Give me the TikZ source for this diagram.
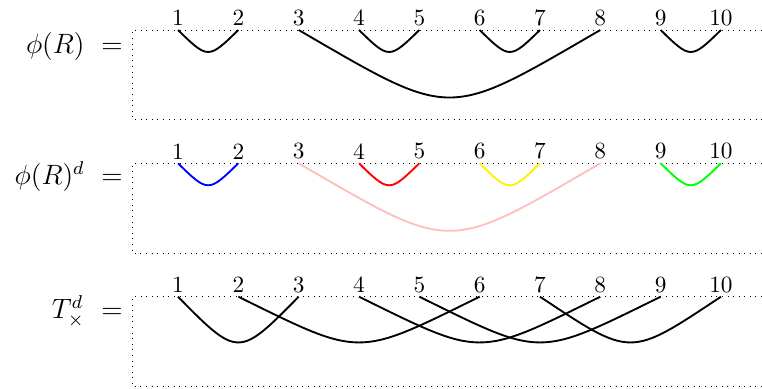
\documentclass[tikz,border=0pt]{standalone}
\begin{document}
\begin{tikzpicture}[x=0.4293pt,y=-0.4293pt,
  box/.style={dotted, line width=0.4pt},
  arcline/.style={line width=0.8pt},
  lab/.style={anchor=south, inner sep=1.6pt},
  rowlab/.style={anchor=base east, inner sep=0pt, font=\large}]
\useasboundingbox (0,0) rectangle (762,388);
\foreach \r/\t/\b in {a/30/119.5, b/163.3/253, c/296.7/386.5} {
  \draw[box] (762,\t) -- (132.7,\t) -- (132.7,\b) -- (762,\b);
  \foreach \i in {1,...,10} {
    \coordinate (\r\i) at ({178+60.33*(\i-1)},\t);
    \node[lab] (\r l\i) at (\r\i) {\i};
  }
}
\node[rowlab] (la) at (123.2,53) {$\phi(R)\ =$};
\node[rowlab] (lb) at (123.2,184.5) {$\phi(R)^d\ =$};
\node[rowlab] (lc) at (123.2,318.5) {$T^d_\times\ =$};
% row a
\foreach \p/\q/\h/\v in {1/2/30/29.3, 3/8/155/90, 4/5/30/29.3, 6/7/30/29.3, 9/10/30/29.3}
  \draw[arcline] (a\p) .. controls +(\h,\v) and +(-\h,\v) .. (a\q);
% row b
\foreach \p/\q/\h/\v/\c in {1/2/30/29.3/blue, 3/8/155/90/pink, 4/5/30/29.3/red, 6/7/30/29.3/yellow, 9/10/30/29.3/green}
  \draw[arcline,\c] (b\p) .. controls +(\h,\v) and +(-\h,\v) .. (b\q);
% row c
\foreach \p/\q/\h in {1/3/60, 2/6/124, 4/8/124, 5/9/124, 7/10/92}
  \draw[arcline] (c\p) .. controls +(\h,61) and +(-\h,61) .. (c\q);
\end{tikzpicture}
\end{document}
